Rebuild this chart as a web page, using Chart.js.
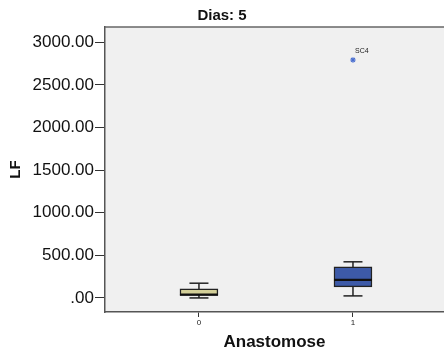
<!DOCTYPE html>
<html>
<head>
<meta charset="utf-8">
<script src="https://cdn.jsdelivr.net/npm/chart.js@4.4.0/dist/chart.umd.min.js"></script>
<style>
html,body{margin:0;padding:0;background:#fff;}
#wrap{width:444px;height:356px;}
</style>
</head>
<body>
<div id="wrap"><canvas id="c" width="444" height="356"></canvas></div>
<script>
// ---- data ----
const categories = [0, 1];
const whiskerLow = [0, 24];
const q1 = [30, 129];
const median = [38, 212];
const q3 = [106, 365];
const whiskerHigh = [173, 424];
const outlierX = [1];
const outlierY = [2793];
const outlierLabels = ['SC4'];
const yTickValues = [0, 500, 1000, 1500, 2000, 2500, 3000];
const boxColors = ['#d3cf98', '#3d5aa8'];

const FONT = "'Liberation Sans', Arial, sans-serif";
const LINE = '#222';

const whiskerSets = categories.map((c, i) => ({
  type: 'line',
  data: [{x: c, y: whiskerLow[i]}, {x: c, y: whiskerHigh[i]}],
  borderColor: LINE, borderWidth: 1.5, pointRadius: 0, order: 5
}));

const capSet = {
  type: 'line', showLine: false,
  data: categories.flatMap((c, i) => [{x: c, y: whiskerLow[i]}, {x: c, y: whiskerHigh[i]}]),
  pointStyle: 'line', pointRadius: 9.5, borderColor: LINE, borderWidth: 1.5,
  pointBorderColor: LINE, pointBorderWidth: 1.5, order: 4
};

const boxSet = {
  type: 'bar',
  data: categories.map((c, i) => ({x: c, y: [q1[i], q3[i]]})),
  backgroundColor: boxColors, borderColor: LINE, borderWidth: 1.5,
  borderSkipped: false, barThickness: 38, grouped: false, order: 2
};

const medianSet = {
  type: 'line', showLine: false,
  data: categories.map((c, i) => ({x: c, y: median[i]})),
  pointStyle: 'line', pointRadius: 19, pointBorderColor: '#111', pointBorderWidth: 2.2, order: 1
};

const outlierSet = {
  type: 'line', showLine: false,
  data: outlierX.map((x, i) => ({x: x, y: outlierY[i]})),
  pointStyle: 'star', pointRadius: 2.8, pointBorderColor: '#4a6fd0', pointBorderWidth: 1.1, order: 0
};

const frame = {
  id: 'frame',
  beforeDraw(chart) {
    const a = chart.chartArea, ctx = chart.ctx;
    ctx.save();
    ctx.fillStyle = '#f0f0f0';
    ctx.fillRect(a.left, a.top, a.right - a.left, a.bottom - a.top);
    ctx.restore();
  },
  afterDraw(chart) {
    const a = chart.chartArea, ctx = chart.ctx;
    ctx.save();
    ctx.strokeStyle = '#666';
    ctx.lineWidth = 1.5;
    ctx.beginPath();
    ctx.moveTo(a.left, a.top); ctx.lineTo(a.right, a.top);
    ctx.stroke();
    // outlier labels
    const meta = chart.getDatasetMeta(chart.data.datasets.indexOf(outlierSet));
    ctx.fillStyle = '#222';
    ctx.font = "7px " + FONT;
    ctx.textBaseline = 'middle';
    meta.data.forEach((pt, i) => {
      ctx.fillText(outlierLabels[i], pt.x + 2, pt.y - 9);
    });
    ctx.restore();
  }
};

new Chart(document.getElementById('c'), {
  type: 'bar',
  data: { datasets: [...whiskerSets, capSet, boxSet, medianSet, outlierSet] },
  options: {
    responsive: false, animation: false,
    layout: { padding: 0, autoPadding: false },
    plugins: {
      legend: { display: false }, tooltip: { enabled: false },
      title: { display: true, text: 'Dias: 5', color: '#111',
        font: { family: FONT, size: 15, weight: 'bold' }, padding: { top: 7, bottom: 2 } }
    },
    scales: {
      x: {
        type: 'linear', offset: false, min: -0.61, max: 1.591,
        afterBuildTicks: s => { s.ticks = categories.map(v => ({value: v})); },
        afterFit: s => { s.height = 44; },
        ticks: { font: { family: FONT, size: 8 }, color: '#222', padding: 1,
          callback: v => String(v) },
        grid: { offset: false, drawOnChartArea: false, drawTicks: true, tickLength: 5, color: '#333', lineWidth: 1 },
        border: { display: true, color: '#555', width: 1.5 },
        title: { display: true, text: 'Anastomose', color: '#111',
          font: { family: FONT, size: 17, weight: 'bold' }, padding: { top: 0, bottom: 3 } }
      },
      y: {
        type: 'linear', min: -165, max: 3180,
        afterBuildTicks: s => { s.ticks = yTickValues.map(v => ({value: v})); },
        afterFit: s => { s.width = 105; },
        ticks: { font: { family: FONT, size: 17 }, color: '#111', padding: 1,
          callback: v => v === 0 ? '.00' : v.toFixed(2) },
        grid: { drawOnChartArea: false, drawTicks: true, tickLength: 10, color: '#333', lineWidth: 1 },
        border: { display: true, color: '#555', width: 1.5 },
        title: { display: true, text: 'LF', color: '#111',
          font: { family: FONT, size: 15, weight: 'bold' }, padding: { top: 7, bottom: 0 } }
      }
    }
  },
  plugins: [frame]
});
</script>
</body>
</html>
